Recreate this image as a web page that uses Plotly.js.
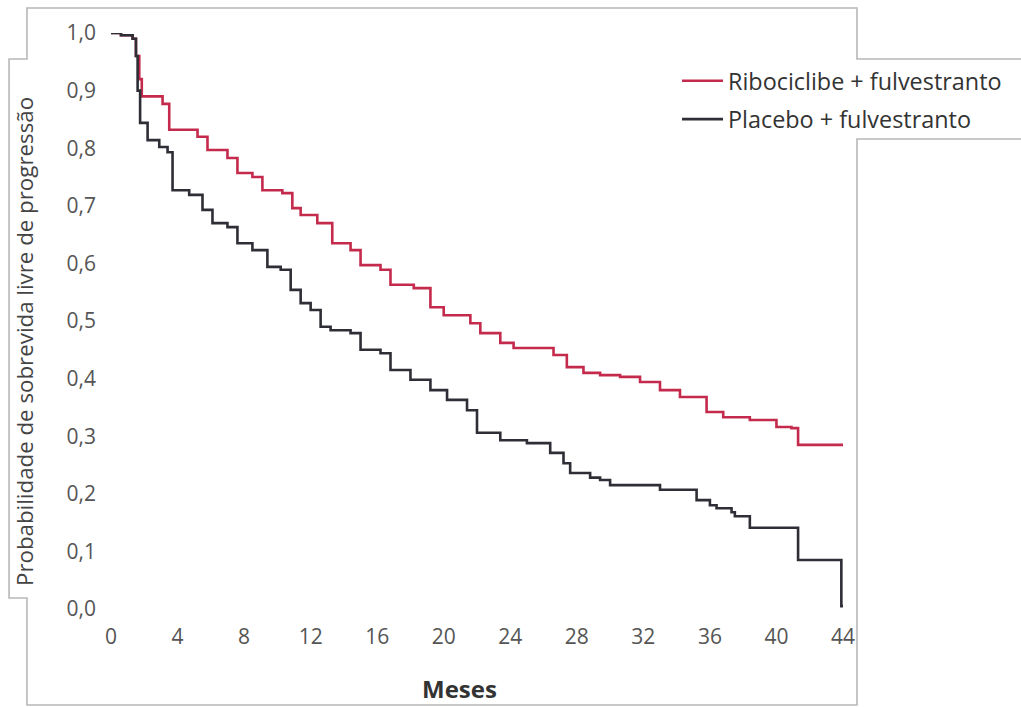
<!DOCTYPE html>
<html>
<head>
<meta charset="utf-8">
<script src="https://cdn.plot.ly/plotly-3.0.1.min.js"></script>
<style>html,body{margin:0;padding:0;background:#fff;}#chart{width:1021px;height:707px;}</style>
</head>
<body>
<div id="chart"></div>
<script>
// Ribociclibe + fulvestranto (step points: month, survival probability)
const riboMonths = [0, 0.6, 1.3, 1.5, 1.7, 1.85, 3.1, 3.5, 5.2, 5.8, 7.0, 7.6, 8.5, 9.1, 10.3, 10.9, 11.4, 12.4, 13.3, 14.4, 15.0, 16.2, 16.8, 18.2, 19.2, 20.0, 21.6, 22.2, 23.4, 24.2, 26.6, 27.4, 28.4, 29.4, 30.6, 31.8, 33.0, 34.2, 35.8, 36.8, 38.4, 40.0, 40.9, 41.3, 44.0];
const riboSurv   = [1.0, 0.996, 0.99, 0.96, 0.92, 0.89, 0.877, 0.832, 0.82, 0.797, 0.783, 0.757, 0.75, 0.727, 0.722, 0.696, 0.684, 0.67, 0.635, 0.623, 0.597, 0.589, 0.563, 0.557, 0.524, 0.51, 0.496, 0.479, 0.462, 0.453, 0.441, 0.42, 0.41, 0.406, 0.403, 0.394, 0.38, 0.368, 0.342, 0.333, 0.328, 0.316, 0.314, 0.285, 0.285];

// Placebo + fulvestranto
const placMonths = [0, 0.6, 1.3, 1.5, 1.6, 1.75, 2.2, 2.9, 3.4, 3.7, 4.7, 5.5, 6.1, 7.0, 7.6, 8.5, 9.4, 10.2, 10.8, 11.4, 12.0, 12.6, 13.2, 14.4, 15.0, 16.2, 16.8, 18.0, 19.2, 20.2, 21.4, 22.0, 23.4, 25.0, 26.4, 27.2, 27.6, 28.8, 29.4, 30.0, 33.0, 35.2, 36.0, 36.4, 37.3, 37.5, 38.4, 41.3, 43.9, 44.0];
const placSurv   = [1.0, 0.996, 0.99, 0.96, 0.90, 0.844, 0.814, 0.802, 0.793, 0.727, 0.719, 0.693, 0.67, 0.663, 0.635, 0.623, 0.594, 0.589, 0.554, 0.531, 0.519, 0.49, 0.484, 0.479, 0.45, 0.444, 0.415, 0.398, 0.38, 0.363, 0.345, 0.306, 0.293, 0.288, 0.271, 0.253, 0.236, 0.228, 0.224, 0.215, 0.207, 0.189, 0.18, 0.175, 0.168, 0.161, 0.141, 0.085, 0.005, 0.005];

const seriesNames = ['Ribociclibe + fulvestranto', 'Placebo + fulvestranto'];
const xTickVals = [0, 4, 8, 12, 16, 20, 24, 28, 32, 36, 40, 44];
const xTickText = ['0', '4', '8', '12', '16', '20', '24', '28', '32', '36', '40', '44'];
const yTickVals = [0, 0.1, 0.2, 0.3, 0.4, 0.5, 0.6, 0.7, 0.8, 0.9, 1.0];
const yTickText = ['0,0', '0,1', '0,2', '0,3', '0,4', '0,5', '0,6', '0,7', '0,8', '0,9', '1,0'];
const xTitle = 'Meses';
const yTitle = 'Probabilidade de sobrevida livre de progressão';

const FONT = 'Open Sans, Lato, sans-serif';

const traces = [
  {x: riboMonths, y: riboSurv, name: seriesNames[0], legendgroup: 'a', type: 'scatter', mode: 'lines',
   line: {shape: 'hv', color: '#c42a4c', width: 2.6}, cliponaxis: false},
  {x: placMonths, y: placSurv, name: seriesNames[1], legendgroup: 'b', type: 'scatter', mode: 'lines',
   line: {shape: 'hv', color: '#2e2e36', width: 2.6}, cliponaxis: false}
];

// frame outline (paper coordinates)
const L = 111, R = 843, T = 33, B = 609;
const px = v => (v - L) / (R - L);
const py = v => (B - v) / (B - T);
const pts = [[27,8],[857,8],[857,59],[1030,59],[1030,139],[857,139],[857,705],[27,705],[27,598],[9,598],[9,59],[27,59]];
const path = 'M ' + pts.map(p => px(p[0]).toFixed(4) + ',' + py(p[1]).toFixed(4)).join(' L ') + ' Z';

const layout = {
  width: 1021, height: 707,
  margin: {l: L, r: 1021 - R, t: T, b: 707 - B},
  paper_bgcolor: '#ffffff', plot_bgcolor: '#ffffff',
  showlegend: true,
  font: {family: FONT, color: '#555555', size: 21},
  xaxis: {range: [0, 44], tickvals: xTickVals, ticktext: xTickText, showgrid: false, zeroline: false,
          showline: false, ticks: '', ticklabelstandoff: 13, tickfont: {family: FONT, size: 21, color: '#555555'},
          fixedrange: true},
  yaxis: {range: [0, 1], tickvals: yTickVals, ticktext: yTickText, showgrid: false, zeroline: false,
          showline: false, ticks: '', ticklabelstandoff: 14, tickfont: {family: FONT, size: 21, color: '#555555'},
          fixedrange: true},
  legend: {x: px(677), y: py(59), xanchor: 'left', yanchor: 'top', bgcolor: 'rgba(0,0,0,0)',
           font: {family: FONT, size: 23.4, color: '#333333'}, tracegroupgap: 5, itemwidth: 41},
  shapes: [{type: 'path', xref: 'paper', yref: 'paper', path: path, line: {color: '#b8b8b8', width: 1.6}, layer: 'below'}],
  annotations: [
    {text: xTitle, xref: 'paper', yref: 'paper', x: px(459), y: py(688), xanchor: 'center', yanchor: 'middle',
     showarrow: false, font: {family: FONT, size: 24, color: '#333333', weight: 'bold'}},
    {text: yTitle, xref: 'paper', yref: 'paper', x: px(25), y: py(342), xanchor: 'center', yanchor: 'middle',
     textangle: -90, showarrow: false, font: {family: FONT, size: 22.3, color: '#444444'}}
  ]
};

Plotly.newPlot('chart', traces, layout, {displayModeBar: false, staticPlot: true});
</script>
</body>
</html>
